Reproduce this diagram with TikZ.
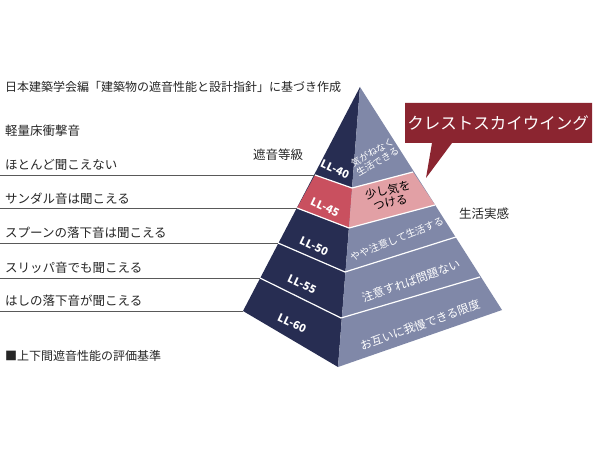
\documentclass[tikz,border=0pt]{standalone}
\usepackage{fontspec}
\setmainfont{Noto Sans CJK JP}
\begin{document}
\begin{tikzpicture}[x=1pt,y=-1pt,
  lbl/.style={anchor=west,font=\fontsize{12.5}{14}\selectfont,text=black!85,inner sep=0},
  ll/.style={font=\fontsize{11}{13}\selectfont\bfseries,text=white,inner sep=0},
  rt/.style={font=\fontsize{10.5}{11.5}\selectfont,text=white,inner sep=0,align=center},
  guide/.style={draw=black!65,line width=0.8pt},
  bnd/.style={draw=white,line width=1.2pt}]
\definecolor{navy}{HTML}{272D52}
\definecolor{slate}{HTML}{8088A8}
\definecolor{rose}{HTML}{C9505F}
\definecolor{lrose}{HTML}{E2A0A5}
\definecolor{wine}{HTML}{8B2530}
\useasboundingbox (0,0) rectangle (600,449);
\fill[white] (0,0) rectangle (600,449);
\coordinate (A) at (360,87); \coordinate (L) at (243,311);
\coordinate (R) at (502,310); \coordinate (B) at (338,367);
\coordinate (l1) at (315,175); \coordinate (m1) at (352,188); \coordinate (r1) at (413,172);
\coordinate (l2) at (297,208); \coordinate (m2) at (349,228); \coordinate (r2) at (435,205);
\coordinate (l3) at (278,243); \coordinate (m3) at (345,272); \coordinate (r3) at (456,237);
\coordinate (l4) at (260,278); \coordinate (m4) at (341,318); \coordinate (r4) at (480,277);
% faces
\fill[navy] (A) -- (L) -- (B) -- cycle;
\fill[slate] (A) -- (B) -- (R) -- cycle;
\fill[rose] (l1) -- (m1) -- (m2) -- (l2) -- cycle;
\fill[lrose] (m1) -- (r1) -- (r2) -- (m2) -- cycle;
\foreach \i in {1,2,3,4} {\draw[bnd] (l\i) -- (m\i) -- (r\i);}
% guide lines
\coordinate (g1) at (0,175); \coordinate (g2) at (0,208);
\coordinate (g3) at (0,243); \coordinate (g4) at (0,278); \coordinate (g5) at (0,311);
\draw[guide] (g1) -- (l1); \draw[guide] (g2) -- (l2); \draw[guide] (g3) -- (l3);
\draw[guide] (g4) -- (l4); \draw[guide] (g5) -- (L);
% texts
\node[lbl,font=\fontsize{12}{14}\selectfont] (t0) at (5,87) {日本建築学会編「建築物の遮音性能と設計指針」に基づき作成};
\node[lbl] (t1) at (5,131) {軽量床衝撃音};
\node[lbl] (t2) at (5,165) {ほとんど聞こえない};
\node[lbl] (t3) at (5,199) {サンダル音は聞こえる};
\node[lbl] (t4) at (5,233) {スプーンの落下音は聞こえる};
\node[lbl] (t5) at (5,268) {スリッパ音でも聞こえる};
\node[lbl] (t6) at (5,301) {はしの落下音が聞こえる};
\node[lbl,font=\fontsize{12}{14}\selectfont] (t7) at (5,356) {■上下間遮音性能の評価基準};
\node[lbl,anchor=center] (h1) at (278,155) {遮音等級};
\node[lbl,anchor=center] (h2) at (484,214) {生活実感};
% LL labels
\node[ll,rotate=-25] (a1) at (335,169) {LL-40};
\node[ll,rotate=-25] (a2) at (325,207) {LL-45};
\node[ll,rotate=-25] (a3) at (314,246) {LL-50};
\node[ll,rotate=-25] (a4) at (302,284) {LL-55};
\node[ll,rotate=-25] (a5) at (292,323) {LL-60};
% right texts
\node[rt,rotate=30,font=\fontsize{9.5}{10.5}\selectfont] (b1) at (375,157) {気がねなく\\生活できる};
\node[rt,rotate=12,text=black,font=\fontsize{11.5}{12.5}\selectfont] (b2) at (389,196) {少し気を\\つける};
\node[rt,rotate=22,font=\fontsize{10}{11}\selectfont] (b3) at (397,239) {やや注意して生活する};
\node[rt,rotate=20,font=\fontsize{11.5}{13}\selectfont] (b4) at (411,281) {注意すれば問題ない};
\node[rt,rotate=20,font=\fontsize{11.5}{13}\selectfont] (b5) at (420,325) {お互いに我慢できる限度};
% callout
\fill[wine] (405,103) -- (592,103) -- (592,143) -- (452,143) -- (426,178) -- (432,143) -- (405,143) -- cycle;
\node[font=\fontsize{16.5}{18}\selectfont,text=white] (c) at (498,123) {クレストスカイウイング};
\end{tikzpicture}
\end{document}
